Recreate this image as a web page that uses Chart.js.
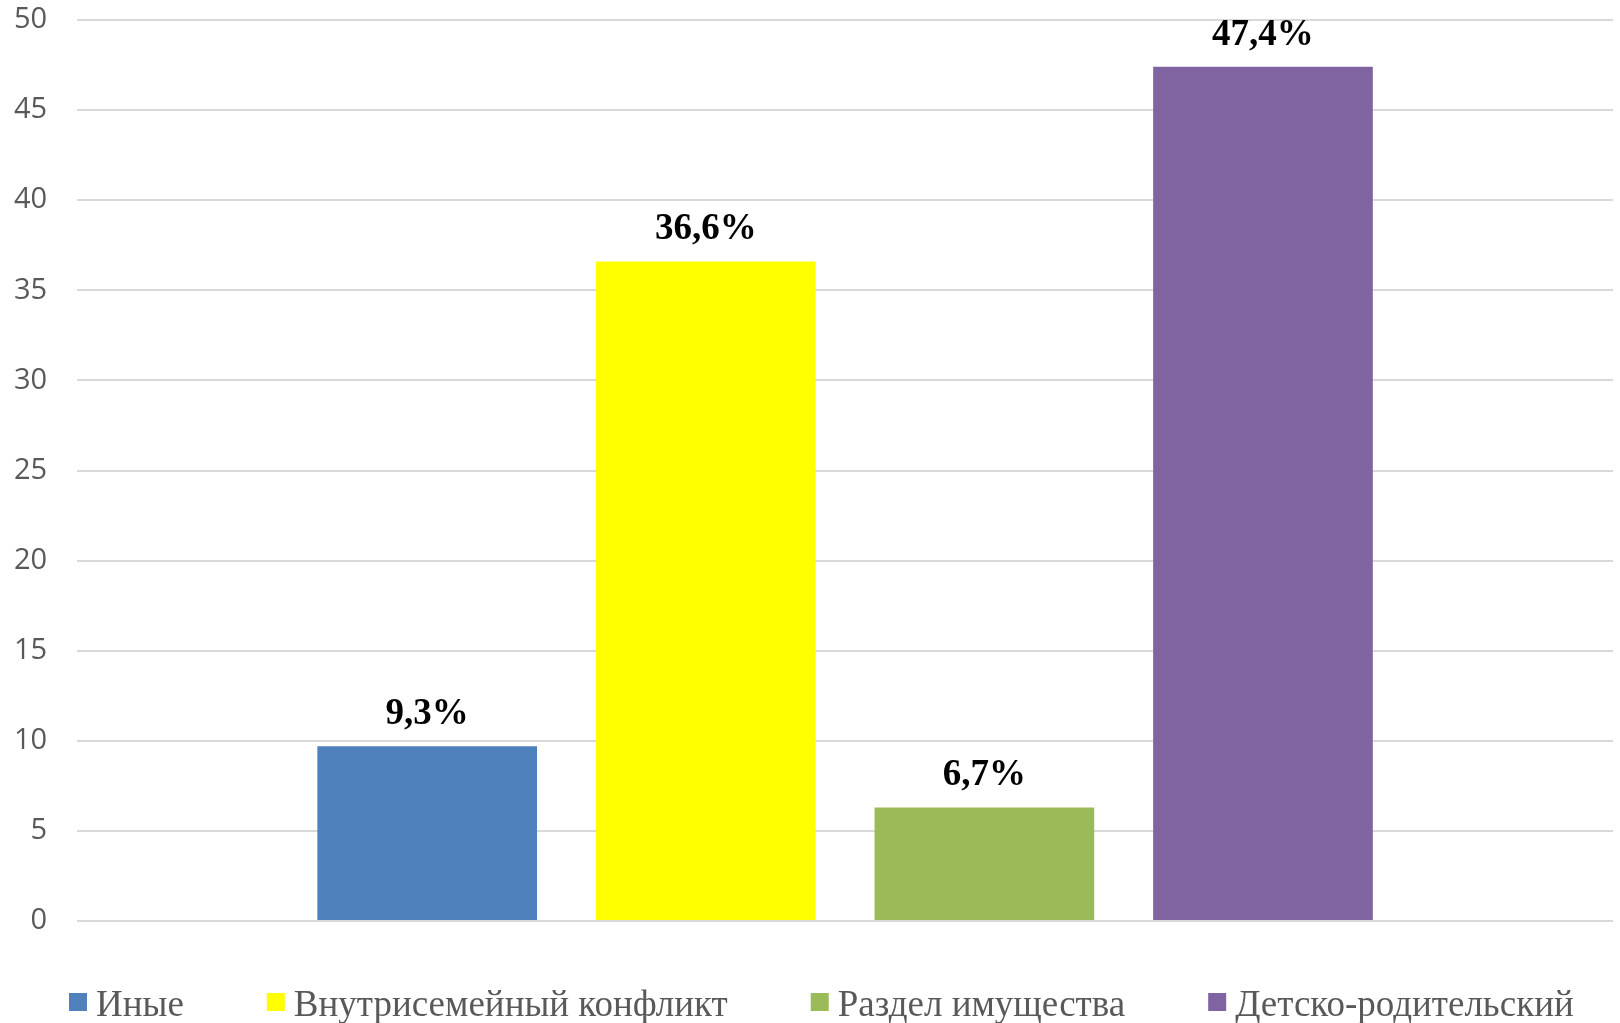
<!DOCTYPE html>
<html>
<head>
<meta charset="utf-8">
<script src="https://cdn.jsdelivr.net/npm/chart.js@4/dist/chart.umd.min.js"></script>
<style>
html, body { margin: 0; padding: 0; background: #ffffff; }
#wrap { width: 1620px; height: 1023px; }
</style>
</head>
<body>
<div id="wrap"><canvas id="c" width="1620" height="1023"></canvas></div>
<script>
const categories = [""];
const seriesNames = ["Иные", "Внутрисемейный конфликт", "Раздел имущества", "Детско-родительский"];
const valuesOther = [9.7];
const valuesIntrafamily = [36.6];
const valuesProperty = [6.3];
const valuesParentChild = [47.4];
const dataLabels = ["9,3%", "36,6%", "6,7%", "47,4%"];
const seriesColors = ["#4F81BD", "#FFFF00", "#9BBB59", "#8064A2"];
const yTicks = [0, 5, 10, 15, 20, 25, 30, 35, 40, 45, 50];

const seriesValues = [valuesOther, valuesIntrafamily, valuesProperty, valuesParentChild];

const valueLabelPlugin = {
  id: 'valueLabels',
  afterDatasetsDraw(chart) {
    const ctx = chart.ctx;
    ctx.save();
    ctx.font = 'bold 37px "Liberation Serif", "Times New Roman", serif';
    ctx.fillStyle = '#000000';
    ctx.textAlign = 'center';
    ctx.textBaseline = 'alphabetic';
    chart.data.datasets.forEach((ds, i) => {
      const meta = chart.getDatasetMeta(i);
      meta.data.forEach((bar) => {
        ctx.fillText(dataLabels[i], bar.x, bar.y - 22);
      });
    });
    ctx.restore();
  }
};

const customLegendPlugin = {
  id: 'customLegend',
  afterDraw(chart) {
    const ctx = chart.ctx;
    ctx.save();
    ctx.font = '37px "Liberation Serif", "Times New Roman", serif';
    ctx.textBaseline = 'alphabetic';
    ctx.textAlign = 'left';
    const box = 18, gapText = 9, gapItem = 83;
    let x = 69;
    const boxTop = 993, baseline = 1016;
    chart.data.datasets.forEach((ds) => {
      ctx.fillStyle = ds.backgroundColor;
      ctx.fillRect(x, boxTop, box, box);
      x += box + gapText;
      ctx.fillStyle = '#595959';
      ctx.fillText(ds.label, x, baseline);
      x += ctx.measureText(ds.label).width + gapItem;
    });
    ctx.restore();
  }
};

new Chart(document.getElementById('c'), {
  type: 'bar',
  data: {
    labels: categories,
    datasets: seriesNames.map((name, i) => ({
      label: name,
      data: seriesValues[i],
      backgroundColor: seriesColors[i],
      borderWidth: 0
    }))
  },
  options: {
    responsive: false,
    devicePixelRatio: 1,
    animation: false,
    categoryPercentage: 0.7256,
    barPercentage: 0.7885,
    layout: { padding: { top: 20, left: 14, right: 7, bottom: 102 } },
    plugins: {
      legend: { display: false },
      tooltip: { enabled: false }
    },
    scales: {
      x: {
        display: false,
        grid: { display: false }
      },
      y: {
        min: 0,
        max: 50,
        afterBuildTicks(scale) { scale.ticks = yTicks.map(v => ({ value: v })); },
        border: { display: false },
        grid: { color: '#d9d9d9', lineWidth: 2, drawTicks: true, tickLength: 30, tickColor: 'rgba(0,0,0,0)' },
        ticks: {
          padding: 0,
          color: '#595959',
          font: { family: '"Open Sans", sans-serif', size: 29 }
        }
      }
    }
  },
  plugins: [valueLabelPlugin, customLegendPlugin]
});
</script>
</body>
</html>
